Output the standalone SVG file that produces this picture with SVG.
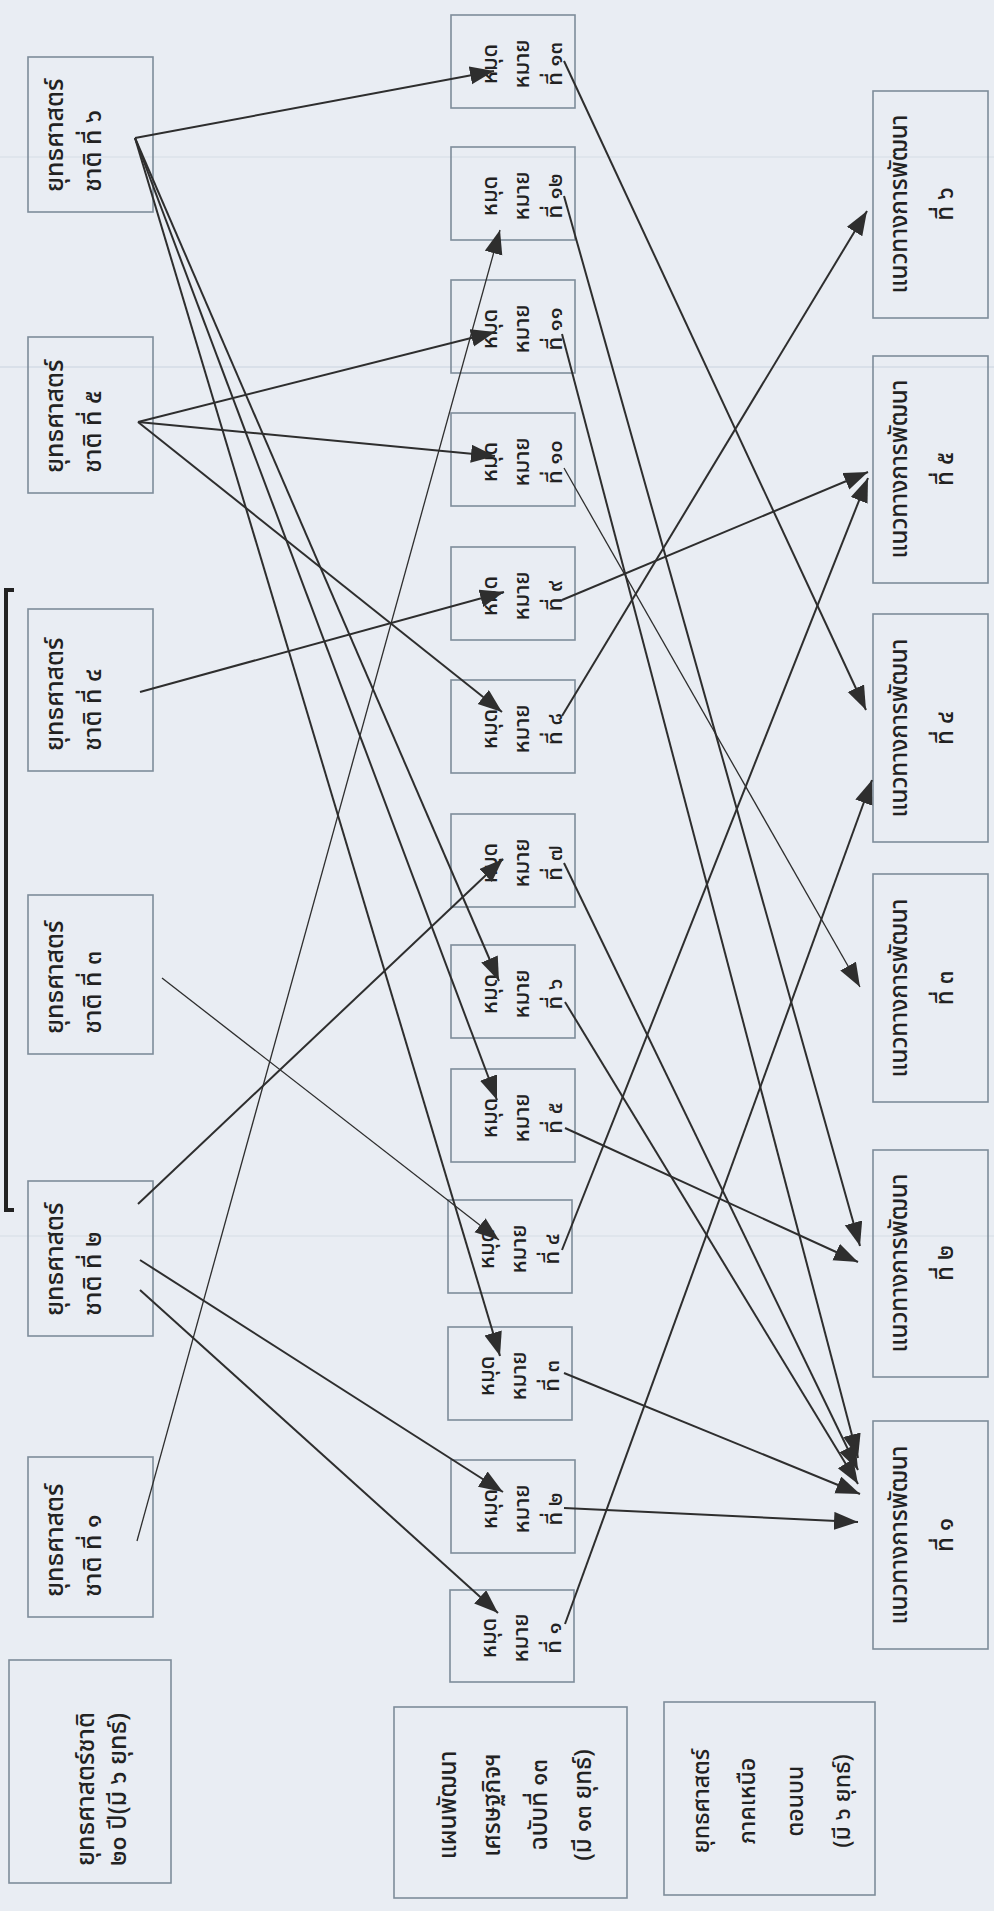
<svg xmlns="http://www.w3.org/2000/svg" width="994" height="1911" viewBox="0 0 994 1911">
<defs>
<style>
.box{fill:none;stroke:#7e8c9a;stroke-width:1.6}
.t{font-family:"Noto Sans Thai","Noto Sans","DejaVu Sans",sans-serif;fill:#222;font-weight:500}
.lt{font-size:25px}
.mt{font-size:22px}
.rt{font-size:24px}
.gl{font-size:25px}
.gm{font-size:24px}
.gr{font-size:23px}
.c{stroke:#2e2e2e;stroke-width:2;fill:none;marker-end:url(#ah)}
.thin{stroke-width:1.3}
.scan{stroke:#c9d4e0;stroke-width:1.2}
</style>
<marker id="ah" markerUnits="userSpaceOnUse" markerWidth="26" markerHeight="20" refX="24" refY="9" orient="auto" viewBox="0 0 26 20"><path d="M0,0 L24,9 L0,18 Z" fill="#2e2e2e"/></marker>
</defs>
<rect width="994" height="1911" fill="#e9edf3"/>
<line class="scan" x1="0" y1="157" x2="994" y2="157" opacity="0.6"/>
<line class="scan" x1="0" y1="367" x2="994" y2="367" stroke="#b3c3d4"/>
<line class="scan" x1="0" y1="1236" x2="994" y2="1236" opacity="0.6"/>
<path d="M14,590 H6 V1210 H14" fill="none" stroke="#222" stroke-width="4"/>

<g id="L6"><rect class="box" x="28" y="57" width="125" height="155"/><text class="t lt" transform="translate(63,192) rotate(-90)"><tspan x="0" y="0">ยุทธศาสตร์</tspan><tspan x="0" y="38">ชาติ ที่ ๖</tspan></text></g>
<g id="L5"><rect class="box" x="28" y="337" width="125" height="156"/><text class="t lt" transform="translate(63,473) rotate(-90)"><tspan x="0" y="0">ยุทธศาสตร์</tspan><tspan x="0" y="38">ชาติ ที่ ๕</tspan></text></g>
<g id="L4"><rect class="box" x="28" y="609" width="125" height="162"/><text class="t lt" transform="translate(63,751) rotate(-90)"><tspan x="0" y="0">ยุทธศาสตร์</tspan><tspan x="0" y="38">ชาติ ที่ ๔</tspan></text></g>
<g id="L3"><rect class="box" x="28" y="895" width="125" height="159"/><text class="t lt" transform="translate(63,1034) rotate(-90)"><tspan x="0" y="0">ยุทธศาสตร์</tspan><tspan x="0" y="38">ชาติ ที่ ๓</tspan></text></g>
<g id="L2"><rect class="box" x="28" y="1181" width="125" height="155"/><text class="t lt" transform="translate(63,1316) rotate(-90)"><tspan x="0" y="0">ยุทธศาสตร์</tspan><tspan x="0" y="38">ชาติ ที่ ๒</tspan></text></g>
<g id="L1"><rect class="box" x="28" y="1457" width="125" height="160"/><text class="t lt" transform="translate(63,1597) rotate(-90)"><tspan x="0" y="0">ยุทธศาสตร์</tspan><tspan x="0" y="38">ชาติ ที่ ๑</tspan></text></g>
<g id="LegendL"><rect class="box" x="9" y="1660" width="162" height="223"/><text class="t gl" transform="translate(94,1866) rotate(-90)"><tspan x="0" y="0">ยุทธศาสตร์ชาติ</tspan><tspan x="0" y="32">๒๐ ปี(มี ๖ ยุทธ์)</tspan></text></g>

<g id="M13"><rect class="box" x="451" y="15" width="124" height="93"/><text class="t mt" text-anchor="middle" transform="translate(497,64) rotate(-90)"><tspan x="0" y="0">หมุด</tspan><tspan x="0" y="32">หมาย</tspan><tspan x="0" y="65">ที่ ๑๓</tspan></text></g>
<g id="M12"><rect class="box" x="451" y="147" width="124" height="93"/><text class="t mt" text-anchor="middle" transform="translate(497,196) rotate(-90)"><tspan x="0" y="0">หมุด</tspan><tspan x="0" y="32">หมาย</tspan><tspan x="0" y="65">ที่ ๑๒</tspan></text></g>
<g id="M11"><rect class="box" x="451" y="280" width="124" height="93"/><text class="t mt" text-anchor="middle" transform="translate(497,329) rotate(-90)"><tspan x="0" y="0">หมุด</tspan><tspan x="0" y="32">หมาย</tspan><tspan x="0" y="65">ที่ ๑๑</tspan></text></g>
<g id="M10"><rect class="box" x="451" y="413" width="124" height="93"/><text class="t mt" text-anchor="middle" transform="translate(497,462) rotate(-90)"><tspan x="0" y="0">หมุด</tspan><tspan x="0" y="32">หมาย</tspan><tspan x="0" y="65">ที่ ๑๐</tspan></text></g>
<g id="M9"><rect class="box" x="451" y="547" width="124" height="93"/><text class="t mt" text-anchor="middle" transform="translate(497,596) rotate(-90)"><tspan x="0" y="0">หมุด</tspan><tspan x="0" y="32">หมาย</tspan><tspan x="0" y="65">ที่ ๙</tspan></text></g>
<g id="M8"><rect class="box" x="451" y="680" width="124" height="93"/><text class="t mt" text-anchor="middle" transform="translate(497,729) rotate(-90)"><tspan x="0" y="0">หมุด</tspan><tspan x="0" y="32">หมาย</tspan><tspan x="0" y="65">ที่ ๘</tspan></text></g>
<g id="M7"><rect class="box" x="451" y="814" width="124" height="93"/><text class="t mt" text-anchor="middle" transform="translate(497,863) rotate(-90)"><tspan x="0" y="0">หมุด</tspan><tspan x="0" y="32">หมาย</tspan><tspan x="0" y="65">ที่ ๗</tspan></text></g>
<g id="M6"><rect class="box" x="451" y="945" width="124" height="93"/><text class="t mt" text-anchor="middle" transform="translate(497,994) rotate(-90)"><tspan x="0" y="0">หมุด</tspan><tspan x="0" y="32">หมาย</tspan><tspan x="0" y="65">ที่ ๖</tspan></text></g>
<g id="M5"><rect class="box" x="451" y="1069" width="124" height="93"/><text class="t mt" text-anchor="middle" transform="translate(497,1118) rotate(-90)"><tspan x="0" y="0">หมุด</tspan><tspan x="0" y="32">หมาย</tspan><tspan x="0" y="65">ที่ ๕</tspan></text></g>
<g id="M4"><rect class="box" x="448" y="1200" width="124" height="93"/><text class="t mt" text-anchor="middle" transform="translate(494,1249) rotate(-90)"><tspan x="0" y="0">หมุด</tspan><tspan x="0" y="32">หมาย</tspan><tspan x="0" y="65">ที่ ๔</tspan></text></g>
<g id="M3"><rect class="box" x="448" y="1327" width="124" height="93"/><text class="t mt" text-anchor="middle" transform="translate(494,1376) rotate(-90)"><tspan x="0" y="0">หมุด</tspan><tspan x="0" y="32">หมาย</tspan><tspan x="0" y="65">ที่ ๓</tspan></text></g>
<g id="M2"><rect class="box" x="451" y="1460" width="124" height="93"/><text class="t mt" text-anchor="middle" transform="translate(497,1509) rotate(-90)"><tspan x="0" y="0">หมุด</tspan><tspan x="0" y="32">หมาย</tspan><tspan x="0" y="65">ที่ ๒</tspan></text></g>
<g id="M1"><rect class="box" x="450" y="1590" width="124" height="92"/><text class="t mt" text-anchor="middle" transform="translate(496,1638) rotate(-90)"><tspan x="0" y="0">หมุด</tspan><tspan x="0" y="32">หมาย</tspan><tspan x="0" y="65">ที่ ๑</tspan></text></g>
<g id="LegendM"><rect class="box" x="394" y="1707" width="233" height="191"/><text class="t gm" text-anchor="middle" transform="translate(456,1805) rotate(-90)"><tspan x="0" y="0">แผนพัฒนา</tspan><tspan x="0" y="44">เศรษฐกิจฯ</tspan><tspan x="0" y="91">ฉบับที่ ๑๓</tspan><tspan x="0" y="135">(มี ๑๓ ยุทธ์)</tspan></text></g>

<g id="R6"><rect class="box" x="873" y="91" width="115" height="227"/><text class="t rt" text-anchor="middle" transform="translate(907,204) rotate(-90)"><tspan x="0" y="0">แนวทางการพัฒนา</tspan><tspan x="0" y="46">ที่ ๖</tspan></text></g>
<g id="R5"><rect class="box" x="873" y="356" width="115" height="227"/><text class="t rt" text-anchor="middle" transform="translate(907,469) rotate(-90)"><tspan x="0" y="0">แนวทางการพัฒนา</tspan><tspan x="0" y="46">ที่ ๕</tspan></text></g>
<g id="R4"><rect class="box" x="873" y="614" width="115" height="228"/><text class="t rt" text-anchor="middle" transform="translate(907,728) rotate(-90)"><tspan x="0" y="0">แนวทางการพัฒนา</tspan><tspan x="0" y="46">ที่ ๔</tspan></text></g>
<g id="R3"><rect class="box" x="873" y="874" width="115" height="228"/><text class="t rt" text-anchor="middle" transform="translate(907,988) rotate(-90)"><tspan x="0" y="0">แนวทางการพัฒนา</tspan><tspan x="0" y="46">ที่ ๓</tspan></text></g>
<g id="R2"><rect class="box" x="873" y="1150" width="115" height="227"/><text class="t rt" text-anchor="middle" transform="translate(907,1263) rotate(-90)"><tspan x="0" y="0">แนวทางการพัฒนา</tspan><tspan x="0" y="46">ที่ ๒</tspan></text></g>
<g id="R1"><rect class="box" x="873" y="1421" width="115" height="228"/><text class="t rt" text-anchor="middle" transform="translate(907,1535) rotate(-90)"><tspan x="0" y="0">แนวทางการพัฒนา</tspan><tspan x="0" y="46">ที่ ๑</tspan></text></g>
<g id="LegendR"><rect class="box" x="664" y="1702" width="211" height="193"/><text class="t gr" text-anchor="middle" transform="translate(709,1801) rotate(-90)"><tspan x="0" y="0">ยุทธศาสตร์</tspan><tspan x="0" y="46">ภาคเหนือ</tspan><tspan x="0" y="94">ตอนบน</tspan><tspan x="0" y="141">(มี ๖ ยุทธ์)</tspan></text></g>

<g id="connectors">
<line class="c" x1="135" y1="138" x2="494" y2="71"/>
<line class="c" x1="135" y1="138" x2="499" y2="981"/>
<line class="c" x1="135" y1="138" x2="497" y2="1100"/>
<line class="c" x1="135" y1="138" x2="500" y2="1356"/>
<line class="c" x1="138" y1="422" x2="495" y2="332"/>
<line class="c" x1="138" y1="422" x2="495" y2="456"/>
<line class="c" x1="138" y1="422" x2="502" y2="712"/>
<line class="c" x1="140" y1="692" x2="504" y2="592"/>
<line class="c thin" x1="162" y1="978" x2="499" y2="1240"/>
<line class="c" x1="138" y1="1204" x2="503" y2="859"/>
<line class="c" x1="140" y1="1260" x2="503" y2="1492"/>
<line class="c" x1="140" y1="1290" x2="498" y2="1613"/>
<line class="c thin" x1="137" y1="1541" x2="500" y2="230"/>
<line class="c" x1="564" y1="61" x2="866" y2="710"/>
<line class="c" x1="564" y1="196" x2="860" y2="1246"/>
<line class="c" x1="562" y1="334" x2="858" y2="1458"/>
<line class="c thin" x1="564" y1="468" x2="860" y2="987"/>
<line class="c" x1="562" y1="600" x2="868" y2="472"/>
<line class="c" x1="562" y1="716" x2="867" y2="211"/>
<line class="c" x1="564" y1="863" x2="858" y2="1470"/>
<line class="c" x1="565" y1="1002" x2="858" y2="1484"/>
<line class="c" x1="565" y1="1128" x2="858" y2="1262"/>
<line class="c" x1="562" y1="1250" x2="868" y2="478"/>
<line class="c" x1="564" y1="1373" x2="860" y2="1494"/>
<line class="c" x1="564" y1="1508" x2="858" y2="1522"/>
<line class="c" x1="565" y1="1624" x2="872" y2="780"/>
</g>
</svg>
